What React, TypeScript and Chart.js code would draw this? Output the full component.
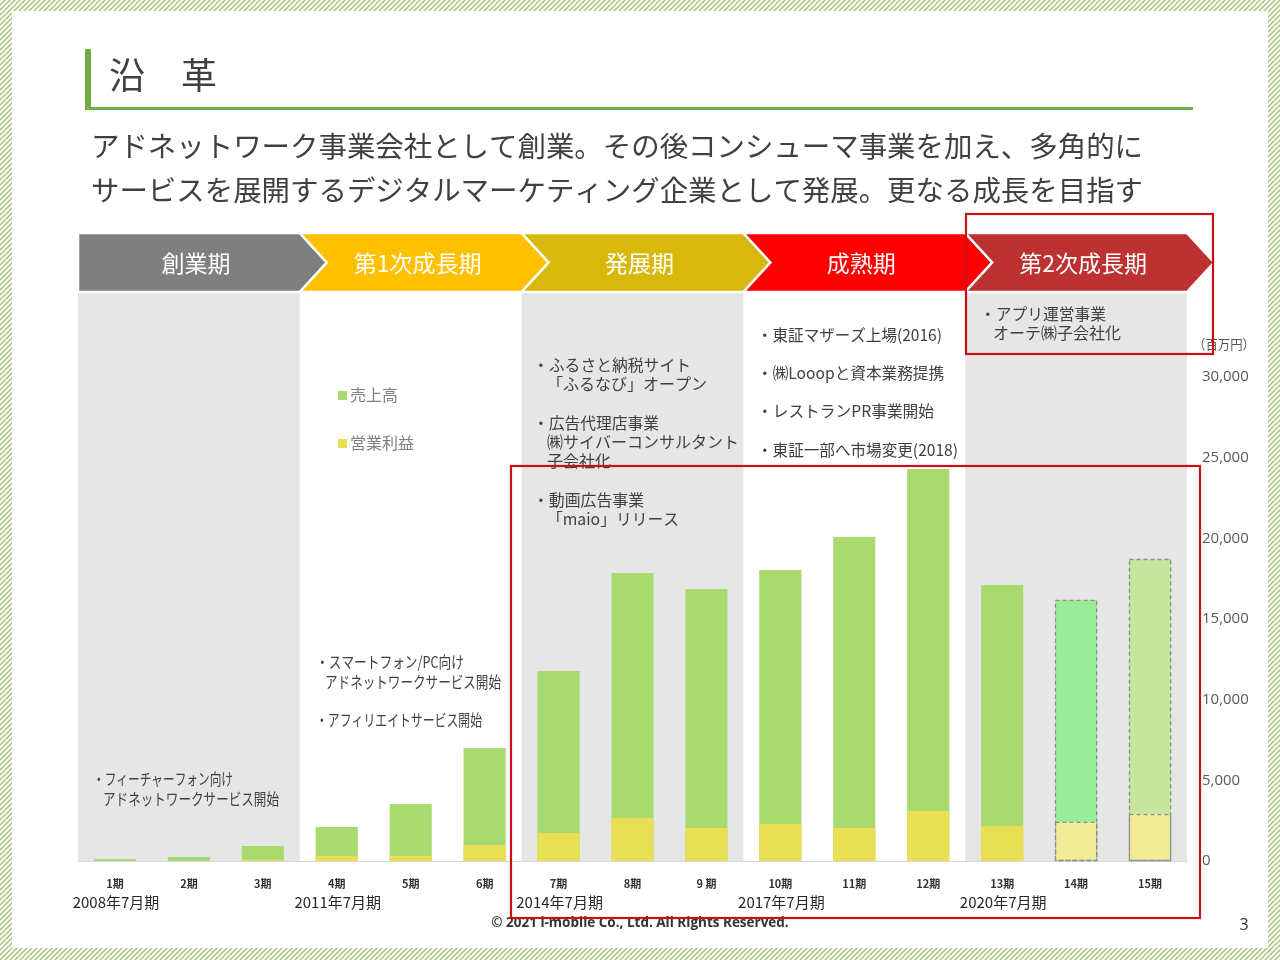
import React, { useEffect, useRef } from "react";
import { Chart, registerables } from "chart.js";

Chart.register(...registerables);

// ---------- data ----------
const periods = ["1期", "2期", "3期", "4期", "5期", "6期", "7期", "8期", "9 期", "10期", "11期", "12期", "13期", "14期", "15期"];
const fiscalYearLabels = ["2008年7月期", "", "", "2011年7月期", "", "", "2014年7月期", "", "", "2017年7月期", "", "", "2020年7月期", "", ""];
const sales = [120, 250, 930, 2110, 3530, 7000, 11780, 17850, 16860, 18040, 20080, 24300, 17110, 16180, 18720];
const operatingProfit = [0, 0, 80, 310, 310, 990, 1740, 2670, 2050, 2290, 2050, 3100, 2170, 2420, 2910];
const forecastFlags = [false, false, false, false, false, false, false, false, false, false, false, false, false, true, true];
const yMin = 0;
const yMax = 30000;
const yStep = 5000;

const phaseNames = ["創業期", "第1次成長期", "発展期", "成熟期", "第2次成長期"];
const phaseNotes: string[][] = [
  ["・フィーチャーフォン向け", "アドネットワークサービス開始"],
  ["・スマートフォン/PC向け", "アドネットワークサービス開始", "・アフィリエイトサービス開始"],
  ["・ふるさと納税サイト", "「ふるなび」オープン", "・広告代理店事業", "㈱サイバーコンサルタント", "子会社化", "・動画広告事業", "「maio」リリース"],
  ["・東証マザーズ上場(2016)", "・㈱Looopと資本業務提携", "・レストランPR事業開始", "・東証一部へ市場変更(2018)"],
  ["・アプリ運営事業", "オーテ㈱子会社化"],
];
const legendNames = ["売上高", "営業利益"];
const titleText = "沿　革";
const subtitleLines = [
  "アドネットワーク事業会社として創業。その後コンシューマ事業を加え、多角的に",
  "サービスを展開するデジタルマーケティング企業として発展。更なる成長を目指す",
];
const unitText = "（百万円）";
const footerText = "© 2021 i-mobile Co., Ltd. All Rights Reserved.";
const pageNumber = "3";

// ---------- styles / layout ----------
const FONT = '"Noto Sans CJK JP", "Noto Sans", sans-serif';
const LATIN = '"Open Sans", "Noto Sans CJK JP", sans-serif';
const phaseColors = ["#7f7f7f", "#ffc000", "#d9b80e", "#ff0000", "#bd3131"];
const phaseShaded = [true, false, true, false, true];
const salesColor = "#a9da6f";
const profitColor = "#e8df55";
const salesForecastColors = ["#99ed99", "#c6e59d"];
const profitForecastColor = "#f2ec99";

// note positions [x, y, maxWidth] per phase, per line
const notePos: number[][][] = [
  [[93, 779, 140], [103, 799, 176]],
  [[316, 662, 148], [325, 682, 176], [316, 720, 166]],
  [[533, 365, 158], [547, 384, 160], [533, 423, 126], [547, 442, 192], [547, 461, 64], [533, 500, 111], [547, 519, 132]],
  [[757, 335, 185], [757, 373, 187], [757, 411, 177], [757, 450, 201]],
  [[980, 314, 126], [993, 333, 129]],
];

function makeHatch(ctx: CanvasRenderingContext2D) {
  const c = document.createElement("canvas");
  c.width = 5;
  c.height = 5;
  const g = c.getContext("2d")!;
  g.fillStyle = "#fbfdf7";
  g.fillRect(0, 0, 5, 5);
  g.strokeStyle = "#a3be79";
  g.lineWidth = 1.3;
  g.beginPath();
  g.moveTo(-1, 6);
  g.lineTo(6, -1);
  g.moveTo(-1, 1);
  g.lineTo(1, -1);
  g.moveTo(4, 6);
  g.lineTo(6, 4);
  g.stroke();
  return ctx.createPattern(c, "repeat");
}

function boundaries(chart: any): number[] {
  const x = chart.scales.x;
  const half = (x.getPixelForValue(1) - x.getPixelForValue(0)) / 2;
  const b: number[] = [];
  for (let p = 0; p < 5; p++) b.push(x.getPixelForValue(p * 3) - half);
  b.push(x.getPixelForValue(periods.length - 1) + half);
  return b;
}

const slidePlugin = {
  id: "slide",
  beforeDraw(chart: any) {
    const ctx: CanvasRenderingContext2D = chart.ctx;
    const { chartArea } = chart;
    ctx.save();
    // hatch frame
    ctx.fillStyle = makeHatch(ctx) as any;
    ctx.fillRect(0, 0, 1280, 960);
    ctx.fillStyle = "#ffffff";
    ctx.fillRect(12, 11, 1256, 937);

    // title
    ctx.fillStyle = "#70ad47";
    ctx.fillRect(85, 49, 6, 61);
    ctx.fillRect(85, 107, 1108, 3);
    ctx.fillStyle = "#404040";
    ctx.font = `36px ${FONT}`;
    ctx.textBaseline = "middle";
    ctx.textAlign = "left";
    ctx.fillText(titleText, 109, 75);
    ctx.font = `28.5px ${FONT}`;
    ctx.fillText(subtitleLines[0], 91, 146, 1052);
    ctx.fillText(subtitleLines[1], 91, 190, 1052);

    const b = boundaries(chart);
    // shaded phase columns
    ctx.fillStyle = "#e6e6e6";
    for (let p = 0; p < 5; p++) {
      if (phaseShaded[p]) ctx.fillRect(b[p], 292, b[p + 1] - b[p], chartArea.bottom - 292);
    }

    // chevrons
    const top = 233, bot = 292, mid = (top + bot) / 2, tip = 27;
    for (let p = 0; p < 5; p++) {
      const x0 = b[p], x1 = b[p + 1];
      ctx.beginPath();
      ctx.moveTo(x0, top);
      ctx.lineTo(x1, top);
      ctx.lineTo(x1 + tip, mid);
      ctx.lineTo(x1, bot);
      ctx.lineTo(x0, bot);
      if (p > 0) ctx.lineTo(x0 + tip, mid);
      ctx.closePath();
      ctx.fillStyle = phaseColors[p];
      ctx.fill();
      ctx.strokeStyle = "#ffffff";
      ctx.lineWidth = 2.5;
      ctx.stroke();
    }
    ctx.fillStyle = "#ffffff";
    ctx.font = `23px ${FONT}`;
    ctx.textAlign = "center";
    for (let p = 0; p < 5; p++) {
      ctx.fillText(phaseNames[p], (b[p] + b[p + 1]) / 2 + 7, 263);
    }

    // notes
    ctx.textAlign = "left";
    ctx.fillStyle = "#404040";
    ctx.font = `16px ${FONT}`;
    for (let p = 0; p < phaseNotes.length; p++) {
      phaseNotes[p].forEach((line, i) => {
        const [nx, ny, mw] = notePos[p][i];
        ctx.fillText(line, nx, ny, mw);
      });
    }

    // legend
    ctx.font = `16px ${FONT}`;
    const legendColors = [salesColor, profitColor];
    legendNames.forEach((name, i) => {
      const ly = 395 + i * 48;
      ctx.fillStyle = legendColors[i];
      ctx.fillRect(338, ly - 4, 9, 9);
      ctx.fillStyle = "#7f7f7f";
      ctx.fillText(name, 350, ly, 50 + i * 16);
    });

    // unit
    ctx.fillStyle = "#595959";
    ctx.font = `13px ${FONT}`;
    ctx.fillText(unitText, 1193, 344, 62);
    ctx.restore();
  },
  afterDatasetsDraw(chart: any) {
    const ctx: CanvasRenderingContext2D = chart.ctx;
    ctx.save();
    ctx.strokeStyle = "#8f8f8f";
    ctx.lineWidth = 1.3;
    ctx.setLineDash([4, 3]);
    for (let d = 0; d < chart.data.datasets.length; d++) {
      const meta = chart.getDatasetMeta(d);
      meta.data.forEach((el: any, i: number) => {
        if (!forecastFlags[i]) return;
        const { x, y, base, width } = el.getProps(["x", "y", "base", "width"], true);
        ctx.strokeRect(x - width / 2 + 0.5, y + 0.5, width - 1, base - y - 1);
      });
    }
    ctx.restore();
  },
  afterDraw(chart: any) {
    const ctx: CanvasRenderingContext2D = chart.ctx;
    const x = chart.scales.x;
    ctx.save();
    ctx.textBaseline = "middle";
    ctx.textAlign = "center";
    ctx.fillStyle = "#262626";
    ctx.font = `15px ${FONT}`;
    fiscalYearLabels.forEach((lab, i) => {
      if (lab) ctx.fillText(lab, x.getPixelForValue(i) + 1, 902);
    });
    ctx.font = `bold 13.5px ${LATIN}`;
    ctx.fillStyle = "#333333";
    ctx.fillText(footerText, 640, 923);
    ctx.font = `16px ${LATIN}`;
    ctx.fillText(pageNumber, 1244, 925);

    // highlight boxes
    ctx.strokeStyle = "#c8101a";
    ctx.lineWidth = 2.2;
    ctx.strokeRect(966, 214, 247, 140);
    ctx.strokeRect(511, 466, 689, 452);
    ctx.restore();
  },
};

export default function App() {
  const ref = useRef<HTMLCanvasElement>(null);
  useEffect(() => {
    document.body.style.margin = "0";
    const canvas = ref.current!;
    const salesBg = sales.map((_, i) => (forecastFlags[i] ? salesForecastColors[i - 13] : salesColor));
    const profitBg = operatingProfit.map((_, i) => (forecastFlags[i] ? profitForecastColor : profitColor));
    const chart = new Chart(canvas, {
      type: "bar",
      data: {
        labels: periods,
        datasets: [
          {
            label: legendNames[1],
            data: operatingProfit,
            backgroundColor: profitBg,
            borderWidth: 0,
            grouped: false,
            order: 0,
            barPercentage: 0.57,
            categoryPercentage: 1,
          } as any,
          {
            label: legendNames[0],
            data: sales,
            backgroundColor: salesBg,
            borderWidth: 0,
            grouped: false,
            order: 1,
            barPercentage: 0.57,
            categoryPercentage: 1,
          } as any,
        ],
      },
      options: {
        responsive: false,
        animation: false,
        devicePixelRatio: 1,
        layout: { padding: { left: 78, top: 377, right: 13, bottom: 59 } },
        plugins: { legend: { display: false }, tooltip: { enabled: false } },
        scales: {
          x: {
            grid: { display: false, drawTicks: false },
            border: { display: true, color: "#d9d9d9" },
            ticks: { color: "#333333", font: { family: FONT, size: 11, weight: "bold" }, padding: 16, maxRotation: 0, autoSkip: false },
            afterFit: (axis: any) => {
              axis.height = 40;
            },
          },
          y: {
            position: "right",
            min: yMin,
            max: yMax,
            grid: { display: false, drawTicks: false },
            border: { display: false },
            ticks: { stepSize: yStep, color: "#595959", font: { family: LATIN, size: 15 }, padding: 15 },
            afterFit: (axis: any) => {
              axis.width = 80;
            },
          },
        },
      } as any,
      plugins: [slidePlugin],
    });
    return () => chart.destroy();
  }, []);
  return <canvas ref={ref} width={1280} height={960} style={{ display: "block", width: 1280, height: 960 }} />;
}
